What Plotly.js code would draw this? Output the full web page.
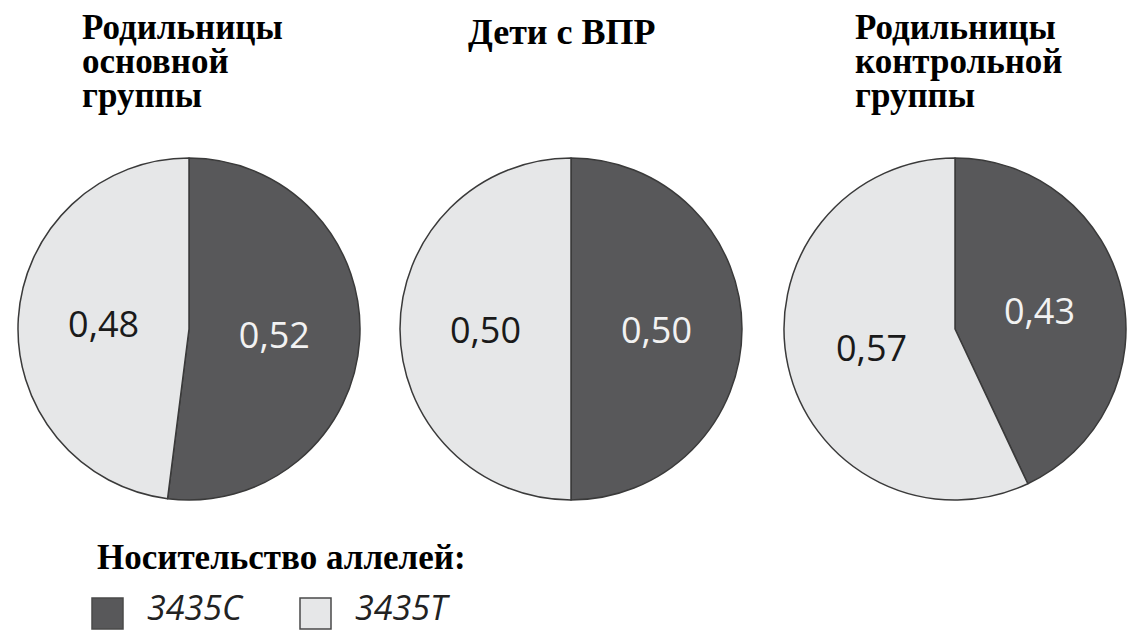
<!DOCTYPE html>
<html>
<head>
<meta charset="utf-8">
<script src="https://cdn.plot.ly/plotly-3.0.1.min.js"></script>
<style>
  html, body { margin: 0; padding: 0; background: #fff; }
  #chart { width: 1136px; height: 632px; }
</style>
</head>
<body>
<div id="chart"></div>
<script>
// Allele carriage frequencies (MDR1 C3435T) in three groups
const titleLines = [
  ['Родильницы', 'основной', 'группы'],
  ['Дети с ВПР'],
  ['Родильницы', 'контрольной', 'группы']
];
const alleles = ['3435C', '3435T'];
const freqC = [0.52, 0.50, 0.43];
const freqT = [0.48, 0.50, 0.57];
const legendTitle = 'Носительство аллелей:';

const W = 1136, H = 632;
const colors = ['#58585a', '#e6e7e8'];
const textColors = ['#f2f2f2', '#1a1a1a'];
const px = v => v / W;
const py = v => 1 - v / H;

// pie centres (px) and radius
const centres = [189, 571, 955];
const cy = 329;
const R = 171;

const traces = centres.map((cx, i) => ({
  type: 'pie',
  labels: alleles,
  values: [freqC[i], freqT[i]],
  sort: false,
  direction: 'clockwise',
  rotation: 0,
  domain: { x: [px(cx - R), px(cx + R)], y: [py(cy + R), py(cy - R)] },
  marker: { colors: colors, line: { color: '#3a3a3a', width: 1.5 } },
  texttemplate: '%{value:.2f}',
  textposition: 'inside',
  insidetextorientation: 'horizontal',
  insidetextfont: { family: 'Open Sans, sans-serif', size: 36, color: textColors },
  hoverinfo: 'none',
  showlegend: false
}));

const serif = 'Liberation Serif, Times New Roman, serif';
const annotations = [];
const titleX = [80, null, 853];
titleLines.forEach((lines, i) => {
  lines.forEach((line, k) => {
    const centred = titleX[i] === null;
    annotations.push({
      xref: 'paper', yref: 'paper',
      x: centred ? px(562) : px(titleX[i]),
      xanchor: centred ? 'center' : 'left',
      y: py((centred ? 10 : 6) + k * 34),
      yanchor: 'top',
      text: '<b>' + line + '</b>',
      showarrow: false,
      font: { family: serif, size: centred ? 36 : 35, color: '#000' }
    });
  });
});

// legend block
annotations.push({
  xref: 'paper', yref: 'paper', x: px(95), xanchor: 'left',
  y: py(536), yanchor: 'top',
  text: '<b>' + legendTitle + '</b>', showarrow: false,
  font: { family: serif, size: 35, color: '#000' }
});
const legX = [92, 300];
const shapes = [];
alleles.forEach((a, j) => {
  shapes.push({
    type: 'rect', xref: 'paper', yref: 'paper',
    x0: px(legX[j]), x1: px(legX[j] + 31), y0: py(629), y1: py(598),
    fillcolor: colors[j], line: { color: '#4a4a4a', width: 1.5 }
  });
  annotations.push({
    xref: 'paper', yref: 'paper', x: px(legX[j] + 53), xanchor: 'left',
    y: 0, yanchor: 'bottom',
    text: a, showarrow: false,
    font: { family: 'Open Sans, sans-serif', size: 34, style: 'italic', color: '#222' }
  });
});

const layout = {
  width: W, height: H,
  margin: { l: 0, r: 0, t: 0, b: 0 },
  paper_bgcolor: '#fff',
  separators: ', ',
  showlegend: false,
  annotations: annotations,
  shapes: shapes
};

Plotly.newPlot('chart', traces, layout, { staticPlot: true, displayModeBar: false });
</script>
</body>
</html>
